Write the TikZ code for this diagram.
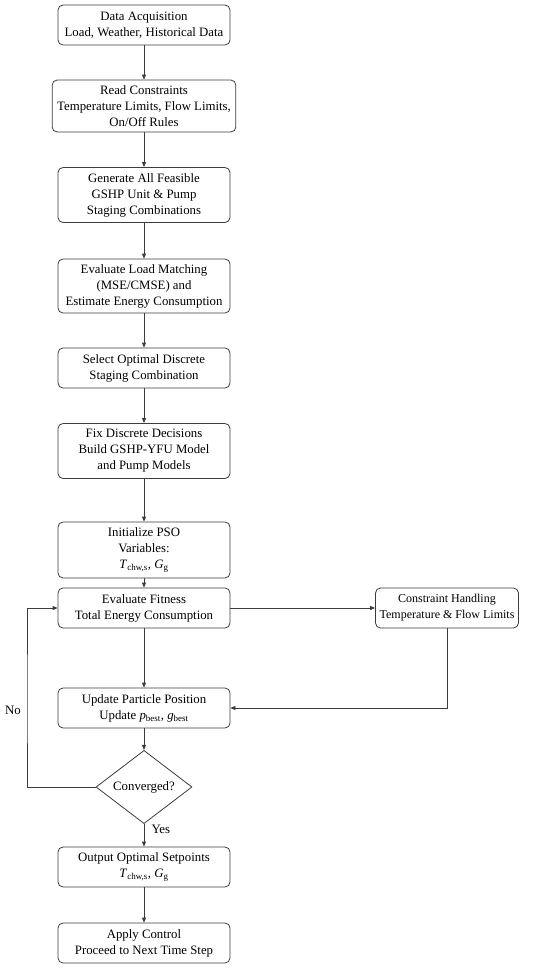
\documentclass[tikz,border=0pt]{standalone}
\usepackage{fontspec}
\setmainfont{Liberation Serif}
\definecolor{FlowLine}{RGB}{60,60,60}
\usetikzlibrary{
    shapes.geometric,
    arrows.meta,
    positioning,
}
\begin{document}
\begin{tikzpicture}[
    x=1pt, y=-1pt,
    stepbox/.style={draw=FlowLine, rounded corners=5pt, line width=0.8pt, minimum width=172pt, minimum height=#1, inner xsep=5pt, inner ysep=3pt, align=center, font=\fontsize{12.8}{16}\selectfont},
    stepbox/.default=40pt,
    decide/.style={diamond, draw=FlowLine, line width=0.8pt, minimum width=96pt, minimum height=50pt, inner sep=0pt, font=\fontsize{12.8}{16}\selectfont},
    arr/.style={draw=FlowLine, line width=0.8pt, -{Triangle[length=5pt, width=4pt]}},
    tag/.style={font=\fontsize{12.8}{16}\selectfont}
]
    \useasboundingbox (0,0) rectangle (550,968);
    \node[stepbox] (acq)  at (144, 25)  {Data Acquisition\\Load, Weather, Historical Data};
    \node[stepbox=52pt] (cons) at (144,106) {Read Constraints\\Temperature Limits, Flow Limits,\\On/Off Rules};
    \node[stepbox=55pt] (gen)  at (144,195) {Generate All Feasible\\GSHP Unit \& Pump\\Staging Combinations};
    \node[stepbox=54pt] (match) at (144,286) {Evaluate Load Matching\\(MSE/CMSE) and\\Estimate Energy Consumption};
    \node[stepbox] (sel)  at (144,368) {Select Optimal Discrete\\Staging Combination};
    \node[stepbox=55pt] (fix)  at (144,451) {Fix Discrete Decisions\\Build GSHP-YFU Model\\and Pump Models};
    \node[stepbox=56pt] (init) at (144,550) {Initialize PSO\\Variables:\\\textit{T}\textsubscript{chw,s}, \textit{G}\textsubscript{g}};
    \node[stepbox] (fit)  at (144,608) {Evaluate Fitness\\Total Energy Consumption};
    \node[stepbox, minimum width=143pt, inner xsep=3pt, font=\fontsize{12}{16}\selectfont] (chk) at (447,608) {Constraint Handling\\Temperature \& Flow Limits};
    \node[stepbox] (upd)  at (144,708) {Update Particle Position\\Update \textit{p}\textsubscript{best}, \textit{g}\textsubscript{best}};
    \node[decide] (conv) at (144,787) {Converged?};
    \node[stepbox] (out)  at (144,867) {Output Optimal Setpoints\\\textit{T}\textsubscript{chw,s}, \textit{G}\textsubscript{g}};
    \node[stepbox] (app)  at (144,943) {Apply Control\\Proceed to Next Time Step};
    \coordinate (loop) at (27,700);
    \node[tag] (no)  at (13,710) {No};
    \node[tag, anchor=west] (yes) at (148,829) {Yes};
    \draw[arr] (acq) -- (cons);
    \draw[arr] (cons) -- (gen);
    \draw[arr] (gen) -- (match);
    \draw[arr] (match) -- (sel);
    \draw[arr] (sel) -- (fix);
    \draw[arr] (fix) -- (init);
    \draw[arr] (init) -- (fit);
    \draw[arr] (fit) -- (chk);
    \draw[arr] (chk.south) |- (upd.east);
    \draw[arr] (fit) -- (upd);
    \draw[arr] (upd) -- (conv);
    \draw[arr] (conv.west) -| (loop) |- (fit.west);
    \draw[arr] (conv) -- (out);
    \draw[arr] (out) -- (app);
\end{tikzpicture}
\end{document}
